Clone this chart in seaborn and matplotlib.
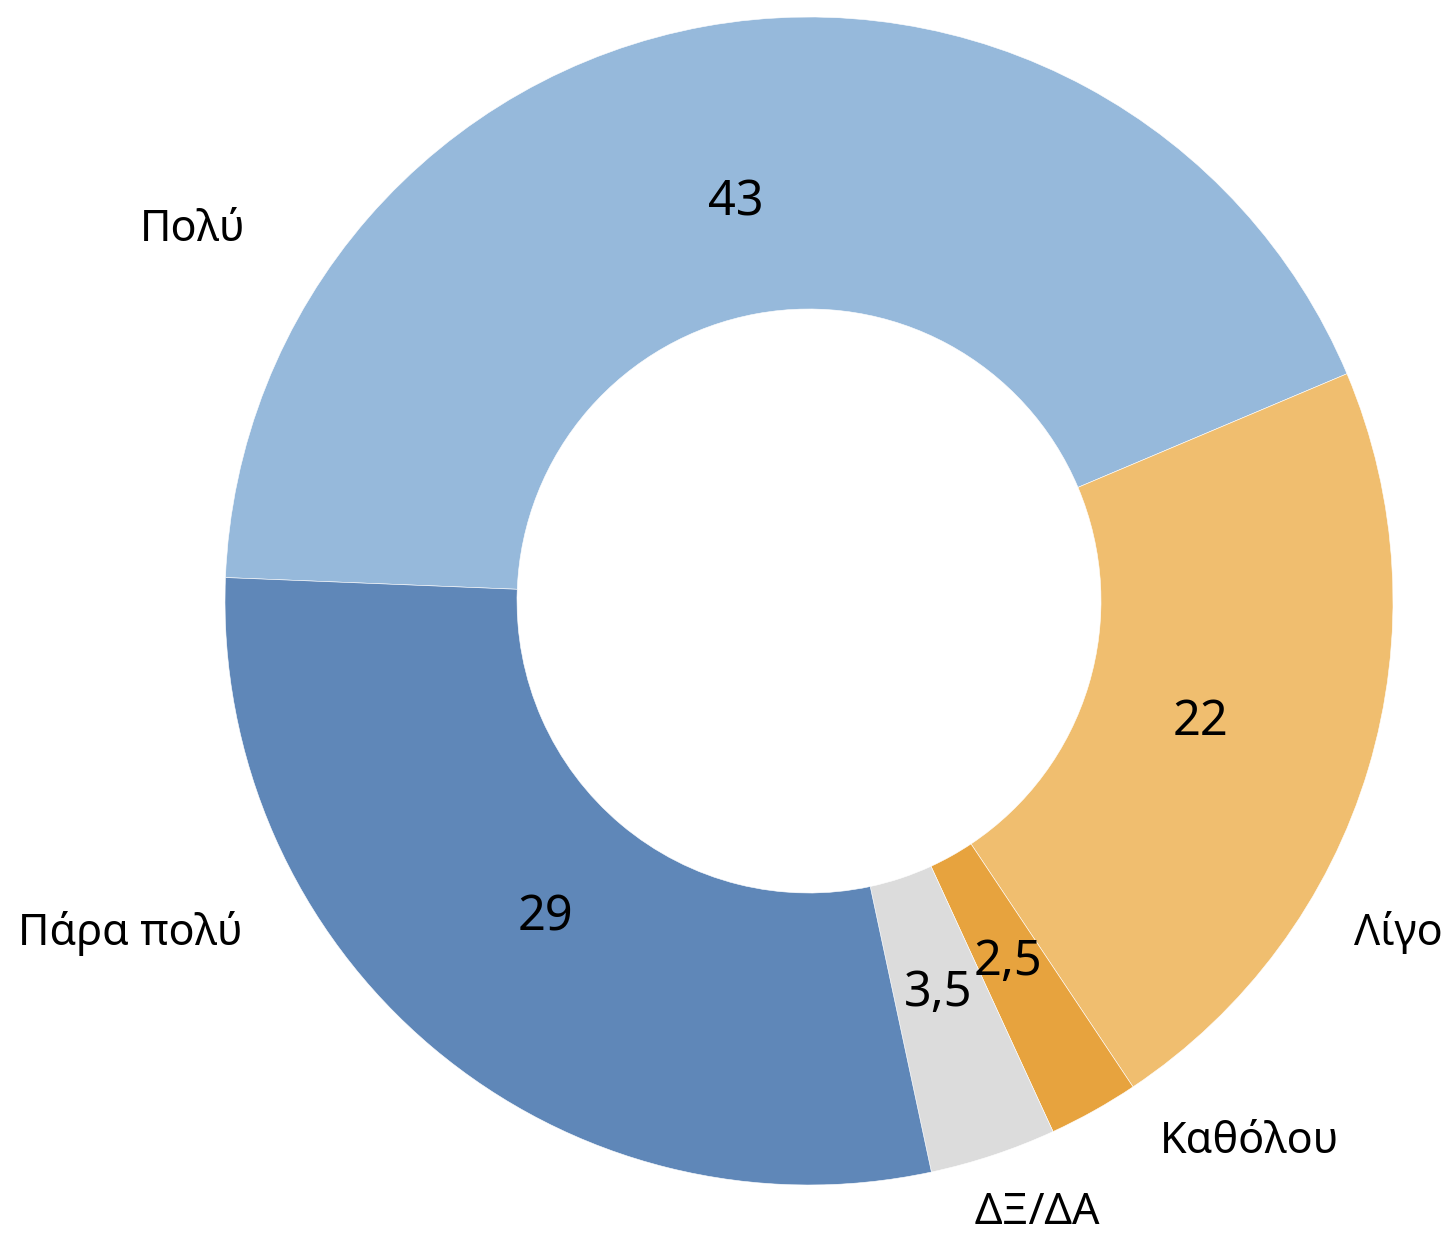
import numpy as np
import matplotlib
matplotlib.use("Agg")
import matplotlib.pyplot as plt
import seaborn as sns

# data, in clockwise order starting at the left edge of the ring
categories = ["Πολύ", "Λίγο", "Καθόλου", "ΔΞ/ΔΑ", "Πάρα πολύ"]
values = [43, 22, 2.5, 3.5, 29]
value_labels = ["43", "22", "2,5", "3,5", "29"]
colors = ["#96B9DB", "#F0BE6F", "#E7A33E", "#DCDCDC", "#5F87B8"]

# outside category label positions (figure pixels, from top-left)
label_pos = [(193, 230), (1398, 934), (1250, 1142), (1037, 1213), (130, 934)]

sns.set_theme(style="white")
plt.rcParams["font.family"] = ["Noto Sans", "DejaVu Sans"]

W, H = 1455, 1235
fig = plt.figure(figsize=(W / 100, H / 100), dpi=100)
ax = fig.add_axes([0, 0, 1, 1])

cx, cy, R = 809, H - 601, 584
wedges, _ = ax.pie(values, colors=colors, startangle=177.7, counterclock=False,
                   center=(cx, cy), radius=R, frame=True,
                   wedgeprops=dict(width=R * 0.5, edgecolor="white", linewidth=0.4))
ax.set_xlim(0, W)
ax.set_ylim(0, H)
ax.set_aspect("equal")
ax.axis("off")

# value labels at 70% of the radius, at the middle of each wedge
for w, txt in zip(wedges, value_labels):
    mid = np.deg2rad((w.theta1 + w.theta2) / 2)
    ax.text(cx + 0.70 * R * np.cos(mid), cy + 0.70 * R * np.sin(mid) - 4, txt,
            ha="center", va="center", fontsize=35, color="black")

for name, (x, y) in zip(categories, label_pos):
    ax.text(x, H - y, name, ha="center", va="center", fontsize=31, color="black")

fig.savefig("out.png", dpi=100, facecolor="white")
